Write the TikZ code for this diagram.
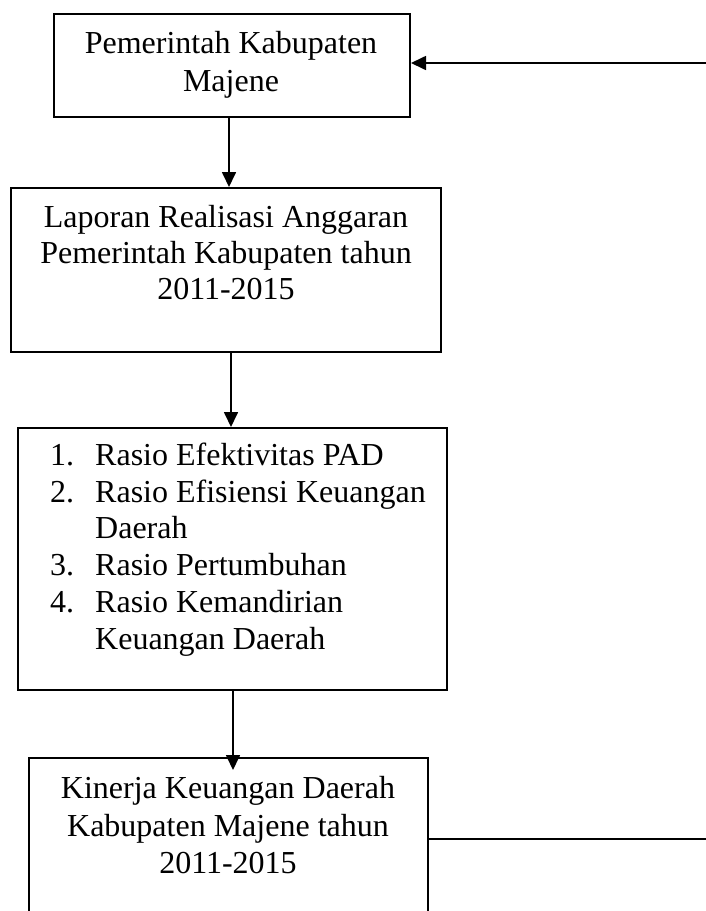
\documentclass[tikz,border=0pt]{standalone}
\usepackage{fontspec}
\setmainfont{Liberation Serif}
\usetikzlibrary{arrows.meta}
\tikzset{
  box/.style={draw=black, line width=2pt, rectangle, inner sep=0pt, anchor=north west},
  txt/.style={inner sep=0pt, anchor=base, font=\fontsize{32}{37}\selectfont},
  ltxt/.style={inner sep=0pt, anchor=base west, font=\fontsize{32}{37}\selectfont},
  arr/.style={draw=black, line width=1.7pt, -{Triangle[length=15pt,width=14pt]}},
  conn/.style={draw=black, line width=1.7pt}
}
\begin{document}
\begin{tikzpicture}[x=1pt,y=-1pt]
\useasboundingbox (0,0) rectangle (706,911);
\clip (0,0) rectangle (706,911);
% boxes
\node[box, minimum width=356pt, minimum height=103pt] (b1) at (53,13) {};
\node[box, minimum width=430pt, minimum height=164pt] (b2) at (10,187) {};
\node[box, minimum width=429pt, minimum height=262pt] (b3) at (17,427) {};
\node[box, minimum width=399pt, minimum height=200pt] (b4) at (28,757) {};
% box 1 text
\node[txt] (t1a) at (231,53) {Pemerintah Kabupaten};
\node[txt] (t1b) at (231,91) {Majene};
% box 2 text
\node[txt] (t2a) at (226,227) {Laporan Realisasi Anggaran};
\node[txt] (t2b) at (226,263) {Pemerintah Kabupaten tahun};
\node[txt] (t2c) at (226,299) {2011-2015};
% box 3 list
\node[ltxt] (n1) at (50,465) {1.};
\node[ltxt] (l1) at (95,465) {Rasio Efektivitas PAD};
\node[ltxt] (n2) at (50,502) {2.};
\node[ltxt] (l2) at (95,502) {Rasio Efisiensi Keuangan};
\node[ltxt] (l2b) at (95,538) {Daerah};
\node[ltxt] (n3) at (50,575) {3.};
\node[ltxt] (l3) at (95,575) {Rasio Pertumbuhan};
\node[ltxt] (n4) at (50,612) {4.};
\node[ltxt] (l4) at (95,612) {Rasio Kemandirian};
\node[ltxt] (l4b) at (95,649) {Keuangan Daerah};
% box 4 text
\node[txt] (t4a) at (228,798) {Kinerja Keuangan Daerah};
\node[txt] (t4b) at (228,836) {Kabupaten Majene tahun};
\node[txt] (t4c) at (228,873) {2011-2015};
% connectors
\coordinate (r1) at (706,63);
\coordinate (r4) at (706,839);
\draw[arr] ([xshift=-3pt]b1.south) -- ([xshift=-3pt]b1.south |- b2.north);
\draw[arr] ([xshift=5pt]b2.south) -- ([xshift=5pt]b2.south |- b3.north);
\draw[arr] ([xshift=0.5pt]b3.south) -- ([xshift=0.5pt,yshift=-13pt]b3.south |- b4.north);
\draw[arr] (r1) -- (r1 -| b1.east);
\draw[conn] (r4 -| b4.east) -- (r4);
\end{tikzpicture}
\end{document}
